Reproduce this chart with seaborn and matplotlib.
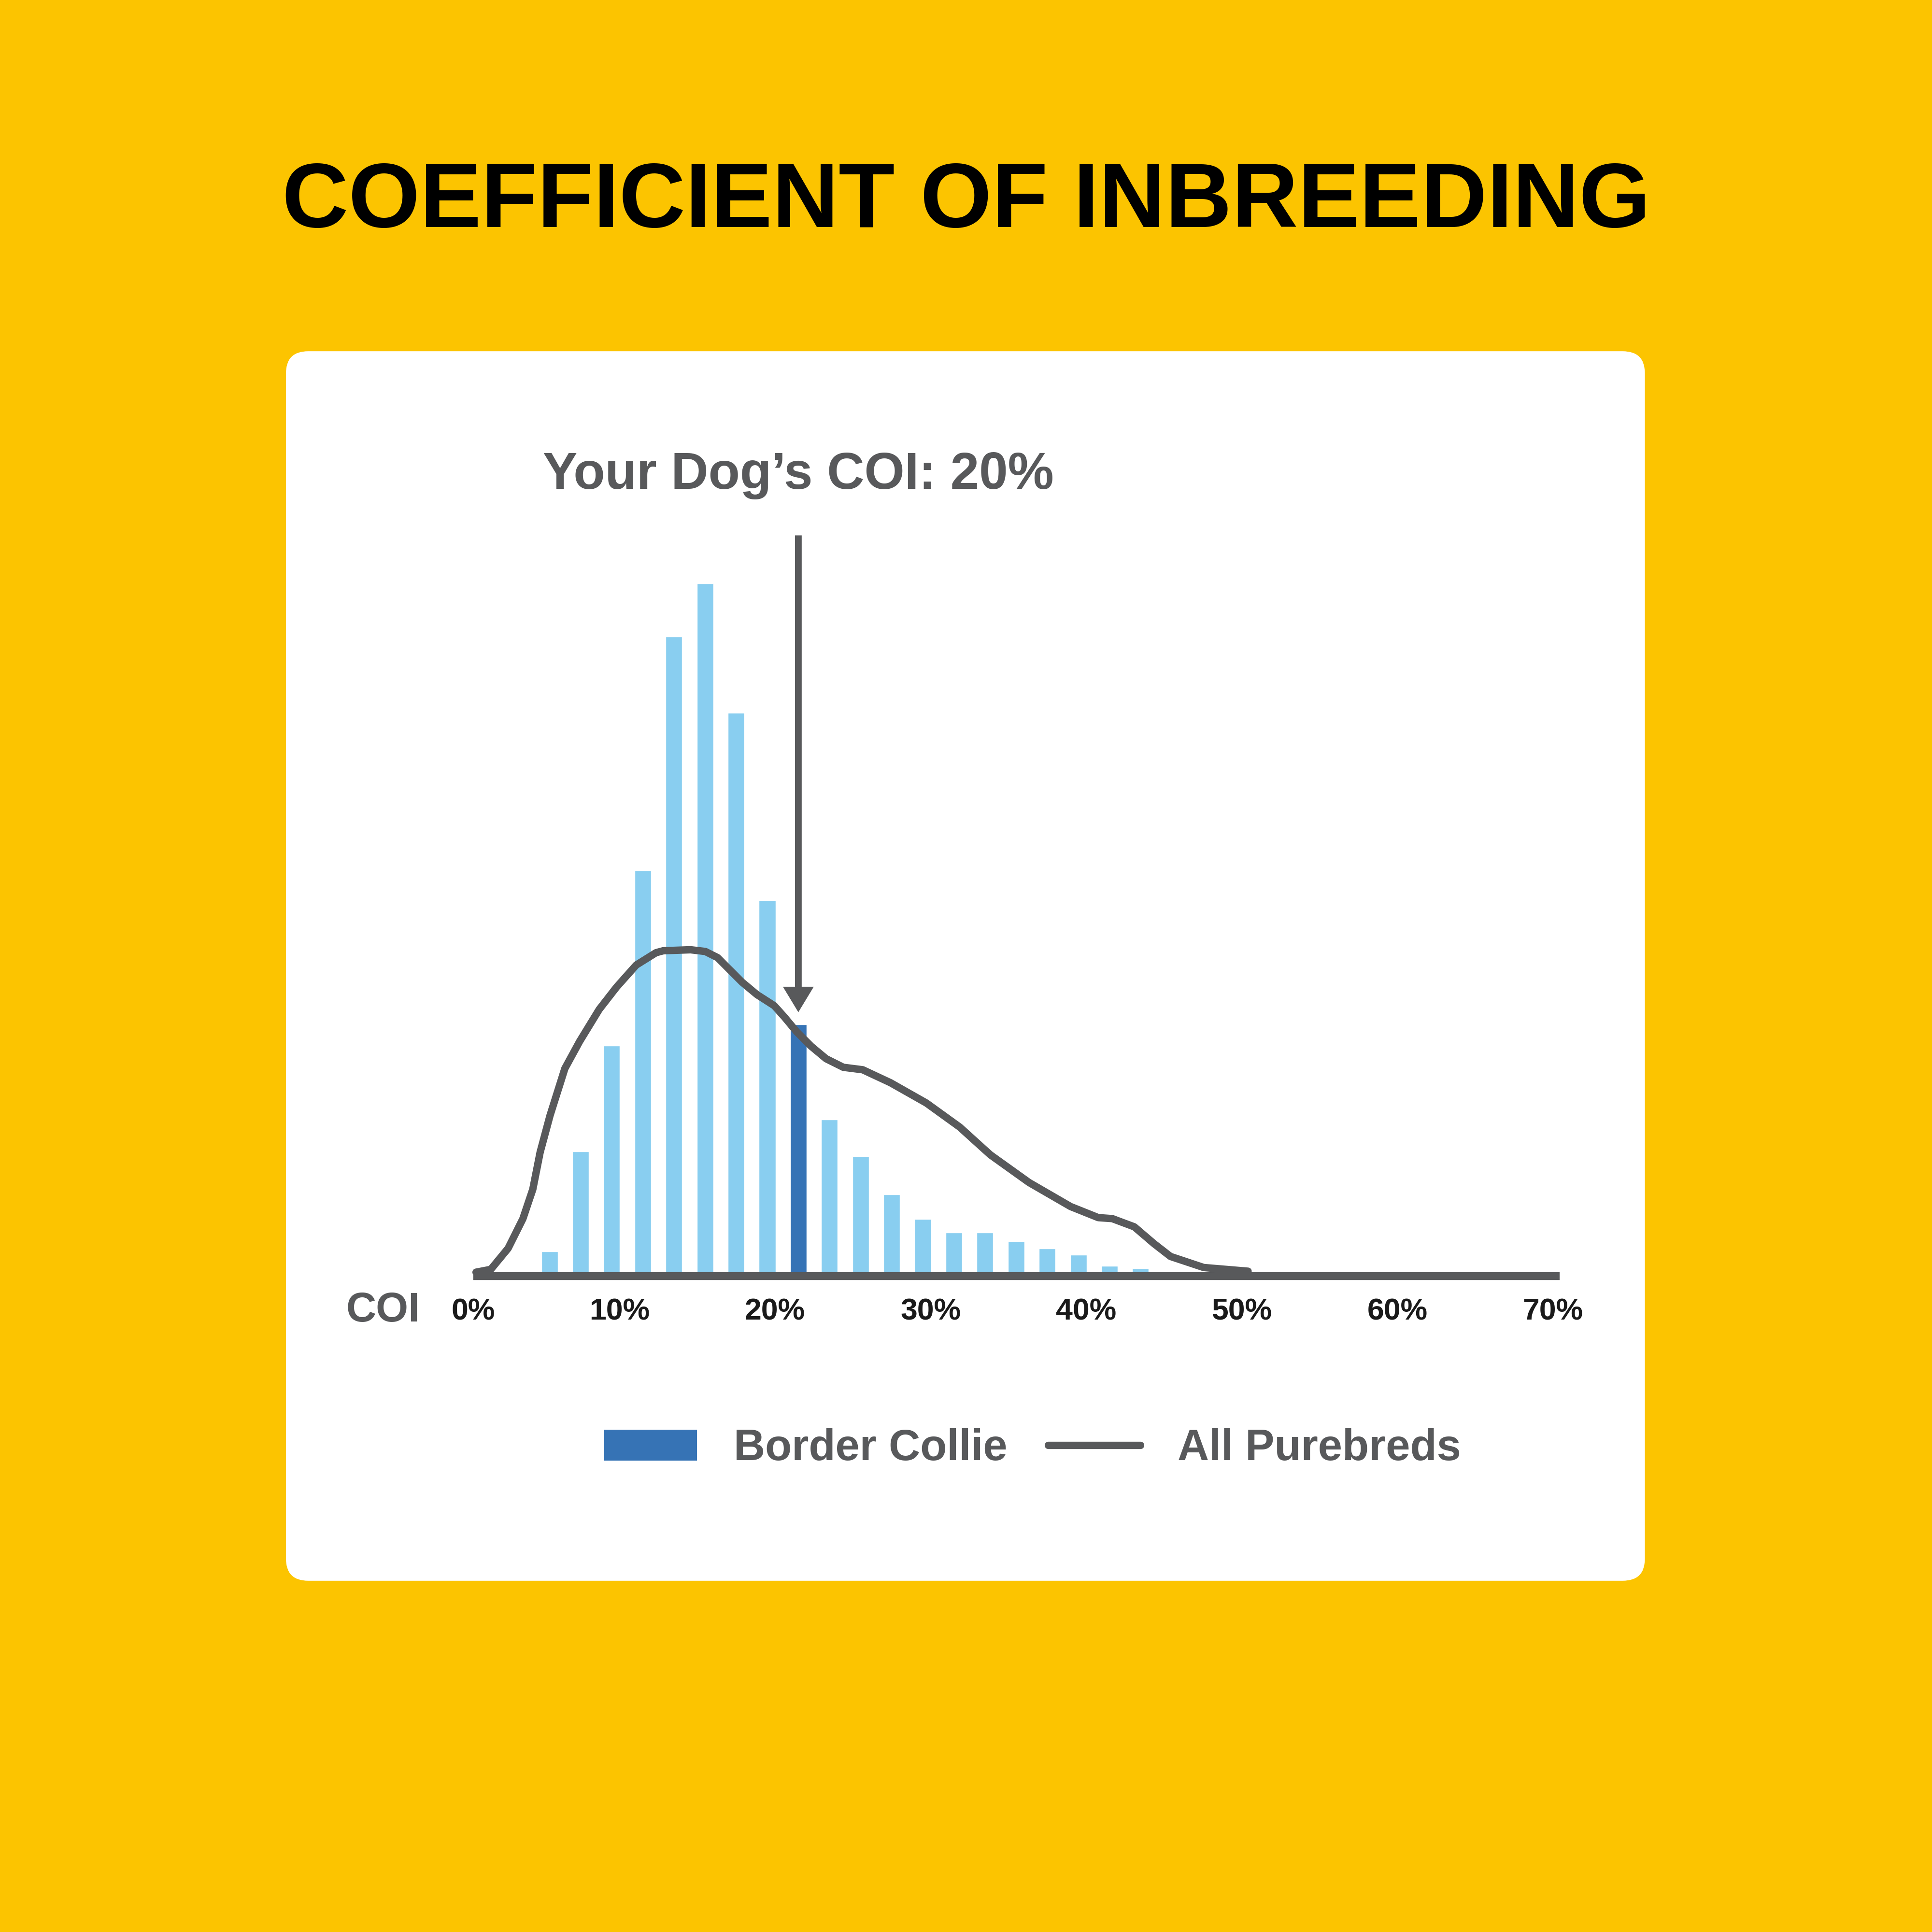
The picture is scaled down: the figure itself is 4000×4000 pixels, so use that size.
import matplotlib
matplotlib.use("Agg")
import matplotlib.pyplot as plt
from matplotlib.patches import FancyBboxPatch, Patch
from matplotlib.lines import Line2D
import pandas as pd
import seaborn as sns

# -------------------------------------------------------
# DATA
# -------------------------------------------------------
# COI bins (2% wide), bar centres in % COI
bin_centers = [5.5, 7.5, 9.5, 11.5, 13.5, 15.5, 17.5, 19.5, 21.5, 23.5,
               25.5, 27.5, 29.5, 31.5, 33.5, 35.5, 37.5, 39.5, 41.5, 43.5]
# Border Collie relative frequency per bin
collie_share = [1.7, 9.8, 18.4, 32.6, 51.6, 55.9, 45.4, 30.2, 20.1, 12.4,
                9.4, 6.3, 4.3, 3.2, 3.2, 2.5, 1.9, 1.4, 0.5, 0.3]
# bin that holds "your dog"
dog_bin = 21.5
dog_label = "Your Dog\u2019s COI: 20%"

# All purebreds distribution curve
purebred_x = [0.78, 1.73, 2.84, 3.79, 4.43, 4.90, 5.54, 6.49, 7.44, 8.70,
              9.81, 11.08, 12.35, 12.82, 14.57, 15.52, 16.31, 16.94, 17.89, 18.84,
              19.95, 20.59, 21.38, 22.33, 23.28, 24.39, 25.64, 27.42, 29.73, 31.87,
              33.84, 36.33, 39.00, 40.78, 41.68, 43.10, 44.35, 45.42, 47.56, 50.41]
purebred_y = [0.0, 0.23, 1.93, 4.33, 6.73, 9.73, 12.73, 16.53, 18.73, 21.33,
              23.13, 24.93, 25.93, 26.09, 26.17, 26.03, 25.53, 24.73, 23.53, 22.53,
              21.63, 20.73, 19.53, 18.33, 17.33, 16.63, 16.43, 15.38, 13.73, 11.78,
              9.53, 7.28, 5.33, 4.43, 4.35, 3.68, 2.33, 1.28, 0.38, 0.08]

tick_values = [0, 10, 20, 30, 40, 50, 60, 70]
tick_labels = ["0%", "10%", "20%", "30%", "40%", "50%", "60%", "70%"]

# -------------------------------------------------------
# STYLE
# -------------------------------------------------------
YELLOW = "#FCC400"
LIGHT_BLUE = "#89CEF0"
DARK_BLUE = "#3673B5"
GRAY = "#58595B"
INK = "#1A1A1A"

AXIS_START, AXIS_END = 0.6, 70.45
ARROW_TOP, ARROW_TIP = 59.8, 21.1
LABEL_Y = 63.6

sns.set_theme(style="white")
plt.rcParams["font.family"] = ["Liberation Sans", "DejaVu Sans"]

df = pd.DataFrame({"coi": bin_centers, "share": collie_share})
df["group"] = ["dog" if c == dog_bin else "other" for c in df["coi"]]

fig = plt.figure(figsize=(40, 40), dpi=100, facecolor=YELLOW)

# white card
card = FancyBboxPatch((0.148, 0.1818), 0.7034, 0.6364,
                      boxstyle="round,pad=0,rounding_size=0.0115",
                      transform=fig.transFigure, facecolor="white",
                      edgecolor="none", zorder=-1)
fig.add_artist(card)

fig.text(0.5, 0.8825, "COEFFICIENT OF INBREEDING", ha="center", va="baseline",
         fontsize=137, fontweight="bold", color="black")

ax = fig.add_axes([0.24011, 0.33947, 0.57972, 0.39745])
ax.set_facecolor("none")

sns.barplot(data=df, x="coi", y="share", hue="group",
            palette={"other": LIGHT_BLUE, "dog": DARK_BLUE},
            native_scale=True, dodge=False, width=0.53, errorbar=None,
            saturation=1, legend=False, ax=ax, zorder=1)

sns.lineplot(x=purebred_x, y=purebred_y, sort=False, color=GRAY,
             linewidth=11, ax=ax, zorder=3, solid_joinstyle="round",
             solid_capstyle="round")

# arrow pointing at the dog's bin
ax.annotate("", xy=(dog_bin, ARROW_TIP), xytext=(dog_bin, ARROW_TOP),
            arrowprops=dict(arrowstyle="simple,head_length=38,head_width=46,tail_width=10",
                            mutation_scale=1, color=GRAY, lw=0,
                            shrinkA=0, shrinkB=0), zorder=4)
ax.text(dog_bin, LABEL_Y, dog_label, ha="center", va="baseline",
        fontsize=77, fontweight="bold", color=GRAY)

ax.set_xlim(0, 72)
ax.set_ylim(-0.32, 62)
for side in ["top", "right", "left"]:
    ax.spines[side].set_visible(False)
ax.spines["bottom"].set_color(GRAY)
ax.spines["bottom"].set_linewidth(11.8)
ax.spines["bottom"].set_capstyle("butt")
ax.spines["bottom"].set_bounds(AXIS_START, AXIS_END)
ax.spines["bottom"].set_zorder(2.5)

ax.set_xticks([max(v, AXIS_START) for v in tick_values])
ax.set_xticklabels(tick_labels)
ax.tick_params(axis="x", length=0, pad=32, labelsize=45, labelcolor=INK)
for lab in ax.get_xticklabels():
    lab.set_fontweight("bold")
ax.set_yticks([])
ax.set_xlabel("")
ax.set_ylabel("")

fig.text(0.1982, 0.3160, "COI", ha="center", va="baseline",
         fontsize=62, fontweight="bold", color=GRAY)

handles = [Patch(facecolor=DARK_BLUE, edgecolor="none"),
           Line2D([], [], color=GRAY, linewidth=11)]
fig.legend(handles, ["Border Collie", "All Purebreds"], loc="center",
           bbox_to_anchor=(0.5345, 0.2500), ncol=2, frameon=False,
           prop={"size": 65, "weight": "bold"}, labelcolor=GRAY,
           handlelength=2.12, handleheight=0.71, handletextpad=0.85,
           columnspacing=0.93)

fig.savefig("out.png", dpi=100, facecolor=YELLOW)
